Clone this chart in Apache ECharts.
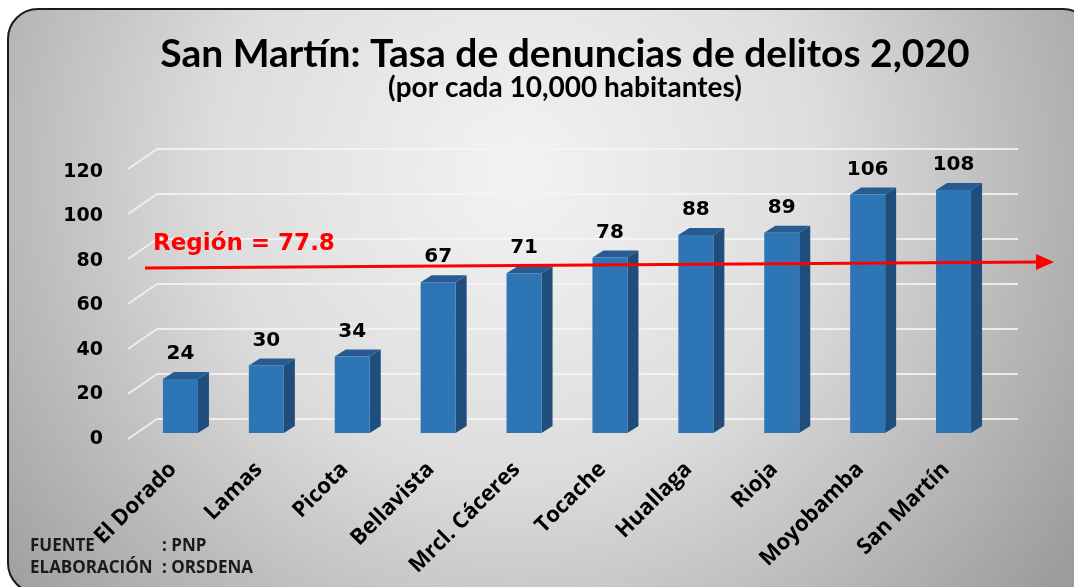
<!DOCTYPE html>
<html>
<head>
<meta charset="utf-8">
<script src="https://cdn.jsdelivr.net/npm/echarts@6/dist/echarts.min.js"></script>
<style>html,body{margin:0;padding:0;background:#fff;}#chart{width:1074px;height:587px;}</style>
</head>
<body>
<div id="chart"></div>
<script>
const categories = ['El Dorado', 'Lamas', 'Picota', 'Bellavista', 'Mrcl. Cáceres', 'Tocache', 'Huallaga', 'Rioja', 'Moyobamba', 'San Martín'];
const values = [24, 30, 34, 67, 71, 78, 88, 89, 106, 108];
const yTicks = [0, 20, 40, 60, 80, 100, 120];
const yMin = 0, yMax = 120, yStep = 20;
const regionValue = 77.8;
const regionLabel = 'Región = 77.8';
const titleText = 'San Martín: Tasa de denuncias de delitos 2,020';
const subtitleText = '(por cada 10,000 habitantes)';
const sourceLabels = ['FUENTE', 'ELABORACIÓN'];
const sourceValues = [': PNP', ': ORSDENA'];

const chart = echarts.init(document.getElementById('chart'), null, {renderer: 'canvas'});

const gridColor = 'rgba(245,245,245,0.85)';

function renderBar(params, api) {
  const idx = api.value(0);
  const val = api.value(1);
  const top = api.coord([idx, val]);
  const base = api.coord([idx, 0]);
  const bw = 35, dx = 11, dy = 7;
  const x0 = top[0] - bw / 2, x1 = top[0] + bw / 2;
  return {
    type: 'group',
    children: [
      {type: 'polygon', shape: {points: [[x1, base[1]], [x1, top[1]], [x1 + dx, top[1] - dy], [x1 + dx, base[1] - dy]]}, style: {fill: '#1f4e7d'}},
      {type: 'polygon', shape: {points: [[x0, top[1]], [x1, top[1]], [x1 + dx, top[1] - dy], [x0 + dx, top[1] - dy]]}, style: {fill: '#285b90'}},
      {type: 'rect', shape: {x: x0, y: top[1], width: bw, height: base[1] - top[1]}, style: {fill: '#2e75b6'}},
      {type: 'text', style: {text: String(val), x: top[0], y: top[1] - 25, align: 'center', verticalAlign: 'middle', font: 'bold 20px "DejaVu Sans"', fill: '#000'}}
    ]
  };
}

function renderFloor(params, api) {
  const v = api.value(1);
  const p = api.coord([0, v]);
  const x = params.coordSys.x;
  return {type: 'line', shape: {x1: x - 29, y1: p[1] + 20, x2: x, y2: p[1]}, style: {stroke: gridColor, lineWidth: 2}};
}

function renderRegion(params, api) {
  const v = api.value(1);
  const p = api.coord([0, v]);
  const cs = params.coordSys;
  const xs = cs.x + 15, xe = cs.x + cs.width + 49;
  const yl = p[1] + 2, yr = p[1] - 4;
  return {
    type: 'group',
    children: [
      {type: 'line', shape: {x1: xs, y1: yl, x2: xe, y2: yr}, style: {stroke: '#ff0000', lineWidth: 3}},
      {type: 'polygon', shape: {points: [[xe - 2, yr - 8], [xe + 16, yr], [xe - 2, yr + 8]]}, style: {fill: '#ff0000'}},
      {type: 'text', style: {text: regionLabel, x: cs.x + 23, y: p[1] - 22, align: 'left', verticalAlign: 'middle', font: 'bold 23px "DejaVu Sans"', fill: '#ff0000'}}
    ]
  };
}

const option = {
  animation: false,
  graphic: [
    {
      type: 'rect', z: -100, silent: true,
      shape: {x: 8, y: 9, width: 1085, height: 584, r: 30},
      style: {
        fill: new echarts.graphic.RadialGradient(0.47, 0.28, 1.15, [
          {offset: 0, color: '#f3f3f3'},
          {offset: 0.45, color: '#dddddd'},
          {offset: 1, color: '#9c9c9c'}
        ]),
        stroke: '#1a1a1a', lineWidth: 2
      }
    },
    {type: 'text', z: 10, style: {text: titleText, x: 565, y: 54, align: 'center', verticalAlign: 'middle', font: 'bold 39px Lato', fill: '#000'}},
    {type: 'text', z: 10, style: {text: subtitleText, x: 565, y: 88, align: 'center', verticalAlign: 'middle', font: 'bold 28px Lato', fill: '#000'}},
    {type: 'text', z: 10, style: {text: sourceLabels[0], x: 30, y: 546, align: 'left', verticalAlign: 'middle', font: 'bold 17px "Open Sans"', fill: '#1a1a1a'}},
    {type: 'text', z: 10, style: {text: sourceValues[0], x: 162, y: 546, align: 'left', verticalAlign: 'middle', font: 'bold 17px "Open Sans"', fill: '#1a1a1a'}},
    {type: 'text', z: 10, style: {text: sourceLabels[1], x: 30, y: 568, align: 'left', verticalAlign: 'middle', font: 'bold 17px "Open Sans"', fill: '#1a1a1a'}},
    {type: 'text', z: 10, style: {text: sourceValues[1], x: 162, y: 568, align: 'left', verticalAlign: 'middle', font: 'bold 17px "Open Sans"', fill: '#1a1a1a'}}
  ],
  grid: [
    {left: 130, width: 859, top: 172, height: 267},
    {left: 157, width: 861, top: 149, height: 270},
    {left: 137.5, width: 859, top: 163, height: 270}
  ],
  xAxis: [
    {gridIndex: 0, type: 'category', data: categories, axisLine: {show: false}, axisTick: {show: false},
      axisLabel: {interval: 0, rotate: 45, margin: 27, color: '#000', fontFamily: 'Open Sans', fontWeight: 'bold', fontSize: 22}},
    {gridIndex: 1, type: 'category', data: categories, show: false},
    {gridIndex: 2, type: 'category', data: categories, show: false}
  ],
  yAxis: [
    {gridIndex: 0, type: 'value', min: yMin, max: yMax, interval: yStep, axisLine: {show: false}, axisTick: {show: false}, splitLine: {show: false},
      axisLabel: {margin: 27, color: '#000', fontFamily: 'DejaVu Sans', fontWeight: 'bold', fontSize: 19}},
    {gridIndex: 1, type: 'value', min: yMin, max: yMax, interval: yStep, axisLine: {show: false}, axisTick: {show: false}, axisLabel: {show: false},
      splitLine: {show: true, lineStyle: {color: gridColor, width: 2}}},
    {gridIndex: 2, type: 'value', min: yMin, max: yMax, interval: yStep, show: false}
  ],
  series: [
    {type: 'custom', xAxisIndex: 1, yAxisIndex: 1, renderItem: renderFloor, data: yTicks.map(v => [0, v]), z: 1, silent: true},
    {type: 'custom', xAxisIndex: 2, yAxisIndex: 2, renderItem: renderBar, data: values.map((v, i) => [i, v]), z: 3, silent: true},
    {type: 'custom', xAxisIndex: 0, yAxisIndex: 0, renderItem: renderRegion, data: [[0, regionValue]], z: 5, silent: true}
  ]
};
chart.setOption(option);
</script>
</body>
</html>
